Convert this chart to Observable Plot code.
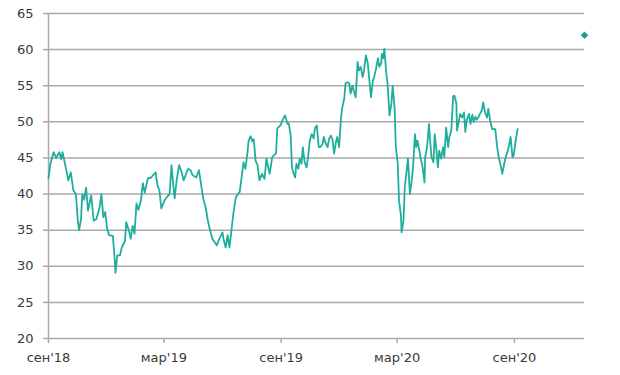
<!DOCTYPE html>
<html><head><meta charset="utf-8">
<script src="https://cdn.jsdelivr.net/npm/d3@7"></script>
<script src="https://cdn.jsdelivr.net/npm/@observablehq/plot@0.6"></script>
<style>html,body{margin:0;padding:0;background:#fff} svg{display:block}</style>
</head><body><div id="chart"></div>
<script>
const dates = [
"2018-09-01","2018-09-04","2018-09-09","2018-09-13","2018-09-18","2018-09-21","2018-09-23","2018-09-28",
"2018-10-02","2018-10-06","2018-10-10","2018-10-14","2018-10-17","2018-10-19","2018-10-22","2018-10-24","2018-10-27","2018-10-30",
"2018-11-02","2018-11-07","2018-11-11","2018-11-15","2018-11-20","2018-11-23","2018-11-26","2018-11-29",
"2018-12-02","2018-12-05","2018-12-11","2018-12-14","2018-12-15","2018-12-18","2018-12-22","2018-12-25","2018-12-30",
"2019-01-01","2019-01-05","2019-01-08","2019-01-11","2019-01-14","2019-01-17","2019-01-20","2019-01-24","2019-01-27","2019-01-30",
"2019-02-04","2019-02-08","2019-02-12","2019-02-16","2019-02-19","2019-02-22","2019-02-25",
"2019-03-02","2019-03-05","2019-03-10","2019-03-13","2019-03-16","2019-03-18","2019-03-21","2019-03-25","2019-03-29",
"2019-04-01","2019-04-08","2019-04-12","2019-04-15","2019-04-21","2019-04-25","2019-04-29",
"2019-05-02","2019-05-06","2019-05-08","2019-05-11","2019-05-16","2019-05-23","2019-05-27",
"2019-06-01","2019-06-03","2019-06-06","2019-06-09","2019-06-12","2019-06-18","2019-06-22","2019-06-28",
"2019-07-01","2019-07-04","2019-07-07","2019-07-10","2019-07-12","2019-07-15","2019-07-18","2019-07-20","2019-07-23","2019-07-26","2019-07-29",
"2019-08-02","2019-08-06","2019-08-09","2019-08-14","2019-08-18","2019-08-21","2019-08-24","2019-08-26","2019-08-31",
"2019-09-03","2019-09-07","2019-09-11","2019-09-13","2019-09-16","2019-09-18","2019-09-20","2019-09-23","2019-09-25","2019-09-28","2019-09-30",
"2019-10-03","2019-10-05","2019-10-08","2019-10-11","2019-10-13","2019-10-16","2019-10-19","2019-10-22","2019-10-24","2019-10-27","2019-10-30",
"2019-11-01","2019-11-05","2019-11-07","2019-11-10","2019-11-13","2019-11-15","2019-11-18","2019-11-21","2019-11-23","2019-11-26","2019-11-28",
"2019-12-01","2019-12-04","2019-12-06","2019-12-09","2019-12-11","2019-12-14","2019-12-17","2019-12-19","2019-12-22","2019-12-24","2019-12-27","2019-12-30",
"2020-01-01","2020-01-04","2020-01-07","2020-01-09","2020-01-12","2020-01-15","2020-01-17","2020-01-20","2020-01-23","2020-01-25","2020-01-28","2020-01-31",
"2020-02-02","2020-02-05","2020-02-06","2020-02-08","2020-02-10","2020-02-13","2020-02-15","2020-02-18","2020-02-21","2020-02-23","2020-02-26","2020-02-28",
"2020-03-02","2020-03-04","2020-03-07","2020-03-08","2020-03-11","2020-03-13","2020-03-16","2020-03-18","2020-03-21","2020-03-24","2020-03-26","2020-03-29","2020-03-31",
"2020-04-02","2020-04-05","2020-04-07","2020-04-10","2020-04-13","2020-04-14","2020-04-17","2020-04-20","2020-04-22","2020-04-24","2020-04-27","2020-04-29",
"2020-05-01","2020-05-04","2020-05-06","2020-05-09","2020-05-12","2020-05-14","2020-05-17","2020-05-20","2020-05-22","2020-05-25","2020-05-28","2020-05-30",
"2020-06-02","2020-06-03","2020-06-06","2020-06-08","2020-06-11","2020-06-14","2020-06-16","2020-06-18","2020-06-22","2020-06-24","2020-06-27","2020-06-29",
"2020-07-02","2020-07-04","2020-07-07","2020-07-09","2020-07-12","2020-07-14","2020-07-17","2020-07-20","2020-07-22","2020-07-25","2020-07-28","2020-07-30",
"2020-08-02","2020-08-05","2020-08-07","2020-08-11","2020-08-13","2020-08-16","2020-08-19","2020-08-21","2020-08-24","2020-08-26","2020-08-29","2020-08-31",
"2020-09-03","2020-09-06"
];
const values = [
42.2,44.2,45.8,45.0,45.8,44.8,45.8,43.7,
41.9,43.0,40.5,40.0,36.3,35.0,36.5,40.0,39.2,40.9,
37.7,39.8,36.3,36.5,38.1,40.0,36.8,37.5,
35.2,34.3,34.2,30.8,29.1,31.5,31.5,32.6,33.5,
36.1,35.0,33.8,35.6,34.5,38.7,37.8,39.1,41.5,40.2,
42.2,42.2,42.6,43.0,41.2,40.5,38.0,
39.1,39.5,40.0,44.0,41.0,39.4,41.9,44.0,43.0,
41.9,43.5,43.3,42.6,42.3,43.3,41.0,
39.3,38.0,36.8,35.5,33.8,32.9,33.8,
34.7,33.6,32.6,34.3,32.6,37.3,39.6,40.3,
42.3,44.4,43.5,45.6,47.4,48.0,47.3,47.6,44.6,44.0,41.9,
42.8,42.1,44.9,42.8,45.1,45.4,45.6,49.1,49.5,
50.2,50.9,49.7,49.8,48.1,43.7,43.0,42.3,44.2,43.5,44.9,
44.2,46.5,44.4,43.7,44.9,47.4,48.3,47.7,49.1,49.5,46.5,
46.5,46.9,47.9,47.0,46.5,47.6,48.1,47.4,45.6,47.2,47.9,
46.5,50.6,52.0,53.2,55.3,55.5,55.3,53.9,55.0,54.3,53.4,58.3,
57.1,57.6,56.2,57.1,59.2,58.1,56.2,53.4,55.7,56.2,57.4,58.8,
57.6,58.1,59.4,58.8,60.1,56.7,55.3,50.9,52.5,55.0,52.0,46.5,
44.2,39.1,37.0,34.7,36.3,41.0,43.3,44.9,40.0,41.9,43.7,48.3,46.5,
47.4,46.0,44.9,43.7,41.6,45.1,46.5,49.7,47.2,45.1,44.4,48.3,
46.7,43.7,46.0,44.9,46.5,45.1,49.2,46.5,47.9,48.8,53.6,53.6,
52.5,48.8,50.2,51.1,50.6,51.3,48.6,50.2,51.1,49.7,51.0,50.0,
50.7,50.3,50.7,51.1,51.6,52.7,51.3,50.6,51.8,50.2,49.0,49.0,
49.0,46.5,45.3,43.7,42.8,44.2,45.3,45.8,46.9,47.9,45.1,45.4,
47.4,49.0
];
const targetDates = ["2020-12-20"];
const targetValues = [62];
const xTickDates = ["2018-09-01","2019-03-01","2019-09-01","2020-03-01","2020-09-01"];
const xTickLabels = ["сен'18","мар'19","сен'19","мар'20","сен'20"];
const yTicks = [20,25,30,35,40,45,50,55,60,65];
const xDomain = ["2018-09-01","2020-12-20"];
const yDomain = [20,65];

const series = dates.map((d, i) => ({date: new Date(d), value: values[i]}));
const target = targetDates.map((d, i) => ({date: new Date(d), value: targetValues[i]}));
const tickDates = xTickDates.map(d => new Date(d));
const labelOf = new Map(tickDates.map((d, i) => [+d, xTickLabels[i]]));

const gray = "#a9a9a9";
const chart = Plot.plot({
  width: 620,
  height: 375,
  marginLeft: 48,
  marginRight: 36,
  marginTop: 13,
  marginBottom: 37,
  style: {fontFamily: "DejaVu Sans, sans-serif", fontSize: "13px", color: "#3a3a3a", background: "#fff"},
  x: {type: "utc", domain: xDomain.map(d => new Date(d))},
  y: {domain: yDomain},
  marks: [
    Plot.gridY(yTicks, {stroke: gray, strokeOpacity: 1, strokeWidth: 1.5}),
    Plot.ruleX([tickDates[0]], {stroke: gray, strokeWidth: 1.5}),
    Plot.axisY(yTicks, {tickSize: 5, tickPadding: 10, stroke: gray, strokeWidth: 1.5, fill: "#3a3a3a", label: null}),
    Plot.axisX(tickDates, {tickSize: 5, tickPadding: 9, stroke: gray, strokeWidth: 1.5, fill: "#3a3a3a", label: null, tickFormat: d => labelOf.get(+d)}),
    Plot.lineY(series, {x: "date", y: "value", stroke: "#1fae9c", strokeWidth: 1.8}),
    Plot.dot(target, {x: "date", y: "value", symbol: "square", rotate: 45, r: 3, fill: "#1a9e8a", stroke: "none"})
  ]
});
document.getElementById("chart").appendChild(chart);
</script>
</body></html>
